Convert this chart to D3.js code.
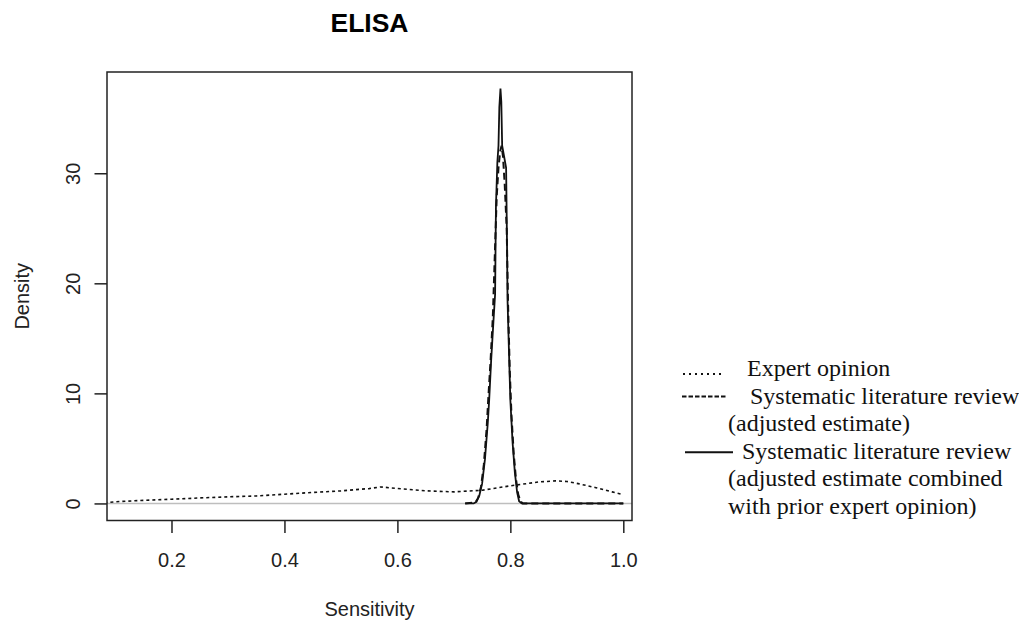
<!DOCTYPE html>
<html>
<head>
<meta charset="utf-8">
<script src="https://cdn.jsdelivr.net/npm/d3@7"></script>
<style>
  body { margin: 0; background: #fff; }
  svg { display: block; }
</style>
</head>
<body>
<div id="chart"></div>
<script>
// densities
const expertX = [0.06, 0.08, 0.10, 0.15, 0.20, 0.25, 0.30, 0.35, 0.40, 0.45, 0.50, 0.55, 0.57, 0.60, 0.65, 0.70, 0.75, 0.80, 0.85, 0.88, 0.90, 0.92, 0.95, 0.98, 1.00];
const expertY = [0.0, 0.05, 0.15, 0.28, 0.38, 0.5, 0.6, 0.68, 0.84, 1.0, 1.14, 1.35, 1.5, 1.36, 1.15, 1.05, 1.2, 1.6, 1.95, 2.05, 2.0, 1.8, 1.45, 1.05, 0.8];

const reviewX = [0.720, 0.738, 0.743, 0.748, 0.753, 0.758, 0.761, 0.765, 0.769, 0.7715, 0.774, 0.776, 0.779, 0.782, 0.7845, 0.787, 0.790, 0.7935, 0.796, 0.799, 0.802, 0.806, 0.810, 0.814, 0.818, 0.822, 1.000];
const reviewY = [0, 0.1, 0.5, 1.5, 3.5, 6.8, 9.6, 13, 17, 21, 25, 28, 30.5, 32.0, 32.5, 31.5, 29, 25, 18, 12, 8, 4.5, 2.2, 0.8, 0.2, 0, 0];

const combinedX = [0.720, 0.735, 0.740, 0.745, 0.750, 0.755, 0.760, 0.7625, 0.766, 0.770, 0.773, 0.7745, 0.777, 0.779, 0.7805, 0.7825, 0.784, 0.7855, 0.789, 0.7925, 0.794, 0.795, 0.798, 0.800, 0.804, 0.808, 0.812, 0.8155, 0.820, 1.000];
const combinedY = [0, 0, 0.15, 0.7, 1.8, 4.0, 7.3, 9.4, 13, 16.5, 19, 27, 31, 32.5, 36, 37.7, 36.5, 32.5, 31.5, 30.5, 24, 18.5, 13, 9.4, 5.5, 2.8, 1.0, 0.2, 0, 0];

const xTicks = [0.2, 0.4, 0.6, 0.8, 1.0];
const yTicks = [0, 10, 20, 30];

const legendLines = [
  { marker: "dotted", x: 747, text: "Expert opinion" },
  { marker: "dashed", x: 750, text: "Systematic literature review" },
  { marker: null, x: 728, text: "(adjusted estimate)" },
  { marker: "solid", x: 742, text: "Systematic literature review" },
  { marker: null, x: 728, text: "(adjusted estimate combined" },
  { marker: null, x: 728, text: "with prior expert opinion)" },
];

const W = 1019, H = 625;
const box = { left: 107, right: 632, top: 72, bottom: 520.5 };

const svg = d3.select("#chart").append("svg")
  .attr("width", W)
  .attr("height", H);

const x = d3.scaleLinear().domain([0.0858, 1.0154]).range([box.left, box.right]);
const y = d3.scaleLinear().domain([-1.55, 39.2]).range([box.bottom, box.top]);

svg.append("defs").append("clipPath").attr("id", "plotclip")
  .append("rect")
  .attr("x", box.left).attr("y", box.top)
  .attr("width", box.right - box.left).attr("height", box.bottom - box.top);

const plot = svg.append("g").attr("clip-path", "url(#plotclip)");

// grey zero line
plot.append("line")
  .attr("x1", box.left).attr("x2", box.right)
  .attr("y1", y(0)).attr("y2", y(0))
  .attr("stroke", "#bebebe").attr("stroke-width", 1.5);

const line = d3.line().x(d => x(d[0])).y(d => y(d[1]));

plot.append("path")
  .datum(d3.zip(expertX, expertY))
  .attr("fill", "none").attr("stroke", "#111")
  .attr("stroke-width", 1.6).attr("stroke-dasharray", "3,3")
  .attr("d", line);

plot.append("path")
  .datum(d3.zip(reviewX, reviewY))
  .attr("fill", "none").attr("stroke", "#111")
  .attr("stroke-width", 2).attr("stroke-dasharray", "7,4")
  .attr("d", line);

plot.append("path")
  .datum(d3.zip(combinedX, combinedY))
  .attr("fill", "none").attr("stroke", "#111")
  .attr("stroke-width", 1.8)
  .attr("d", line);

// box
svg.append("rect")
  .attr("x", box.left).attr("y", box.top)
  .attr("width", box.right - box.left).attr("height", box.bottom - box.top)
  .attr("fill", "none").attr("stroke", "#222").attr("stroke-width", 1.5);

// axes
const xAxis = d3.axisBottom(x).tickValues(xTicks).tickSize(12.5).tickPadding(20).tickFormat(d3.format(".1f"));
const gx = svg.append("g")
  .attr("transform", "translate(0," + box.bottom + ")")
  .call(xAxis);
gx.select(".domain").remove();
gx.selectAll("line").attr("stroke", "#222").attr("stroke-width", 1.5);
gx.selectAll("text")
  .style("font-family", "Liberation Sans, Arial, sans-serif")
  .style("font-size", "20px").attr("fill", "#222");

const yAxis = d3.axisLeft(y).tickValues(yTicks).tickSize(12.5);
const gy = svg.append("g")
  .attr("transform", "translate(" + box.left + ",0)")
  .call(yAxis);
gy.select(".domain").remove();
gy.selectAll("line").attr("stroke", "#222").attr("stroke-width", 1.5);
gy.selectAll("text")
  .attr("x", null).attr("dy", null)
  .attr("transform", "translate(-27,0) rotate(-90)")
  .style("text-anchor", "middle")
  .style("font-family", "Liberation Sans, Arial, sans-serif")
  .style("font-size", "20px").attr("fill", "#222");

// titles
svg.append("text")
  .attr("x", (box.left + box.right) / 2).attr("y", 32)
  .style("text-anchor", "middle")
  .style("font-family", "Liberation Sans, Arial, sans-serif")
  .style("font-weight", "bold").style("font-size", "26.5px")
  .text("ELISA");

svg.append("text")
  .attr("x", (box.left + box.right) / 2).attr("y", 616)
  .style("text-anchor", "middle")
  .style("font-family", "Liberation Sans, Arial, sans-serif")
  .style("font-size", "20px").attr("fill", "#222")
  .text("Sensitivity");

svg.append("text")
  .attr("transform", "translate(29," + (box.top + box.bottom) / 2 + ") rotate(-90)")
  .style("text-anchor", "middle")
  .style("font-family", "Liberation Sans, Arial, sans-serif")
  .style("font-size", "20px").attr("fill", "#222")
  .text("Density");

// legend
const lg = svg.append("g");
legendLines.forEach(function (d, i) {
  const base = 376 + i * 27.6;
  if (d.marker == "dotted") {
    lg.append("line").attr("x1", 683).attr("x2", 725)
      .attr("y1", base - 2).attr("y2", base - 2)
      .attr("stroke", "#111").attr("stroke-width", 2).attr("stroke-dasharray", "2,4");
  } else if (d.marker == "dashed") {
    lg.append("line").attr("x1", 682).attr("x2", 727)
      .attr("y1", base - 7).attr("y2", base - 7)
      .attr("stroke", "#111").attr("stroke-width", 2).attr("stroke-dasharray", "4.5,2");
  } else if (d.marker == "solid") {
    lg.append("line").attr("x1", 685).attr("x2", 733)
      .attr("y1", base - 6.5).attr("y2", base - 6.5)
      .attr("stroke", "#111").attr("stroke-width", 2);
  }
  lg.append("text")
    .attr("x", d.x).attr("y", base)
    .style("font-family", "Liberation Serif, Times New Roman, serif")
    .style("font-size", "24px").attr("fill", "#111")
    .text(d.text);
});
</script>
</body>
</html>
